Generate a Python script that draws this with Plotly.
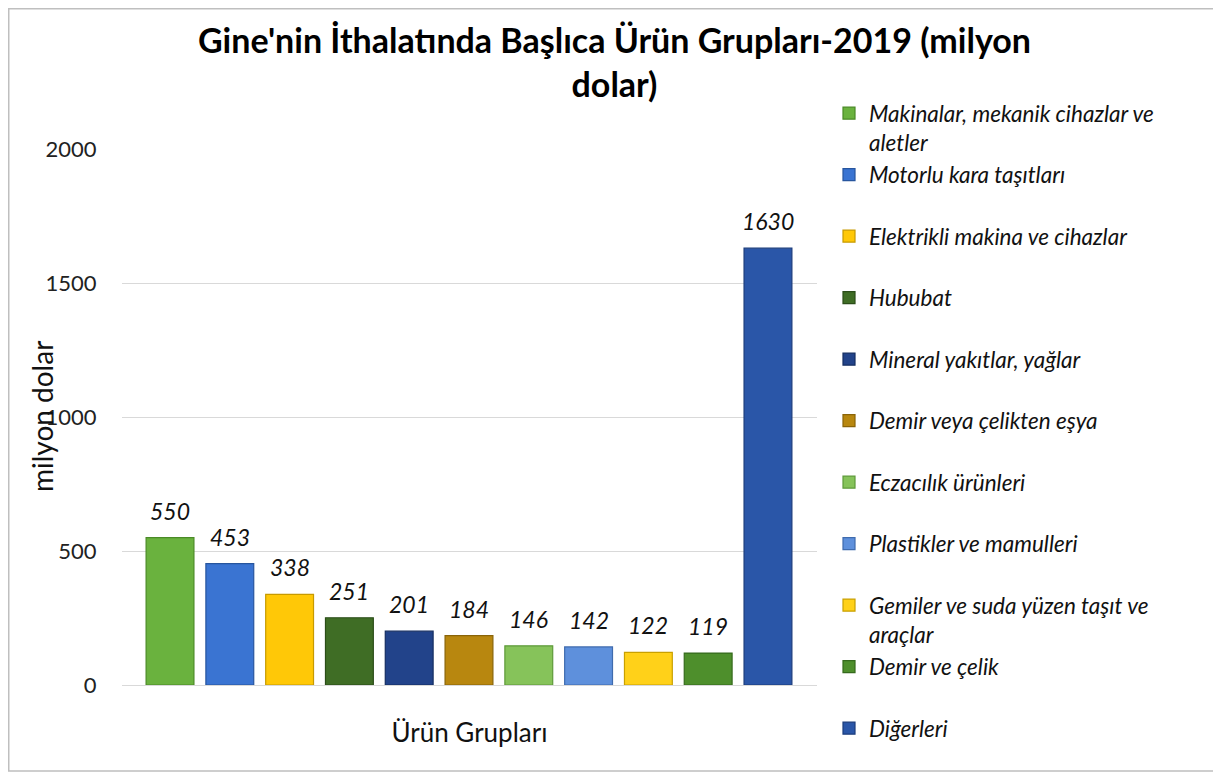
import plotly.graph_objects as go

categories = [
    "Makinalar, mekanik cihazlar ve<br>aletler",
    "Motorlu kara taşıtları",
    "Elektrikli makina ve cihazlar",
    "Hububat",
    "Mineral yakıtlar, yağlar",
    "Demir veya çelikten eşya",
    "Eczacılık ürünleri",
    "Plastikler ve mamulleri",
    "Gemiler ve suda yüzen taşıt ve<br>araçlar",
    "Demir ve çelik",
    "Diğerleri",
]
values = [550, 453, 338, 251, 201, 184, 146, 142, 122, 119, 1630]
colors = ["#6AB23E", "#3A74D2", "#FFC807", "#3F6D25", "#22438A", "#B8870F",
          "#86C35A", "#5E90DC", "#FFD119", "#4E8F2C", "#2A56A8"]
edges = ["#4A8A26", "#27559E", "#C79A00", "#2B4D18", "#152E62", "#8A6408",
         "#5E9A3A", "#3F6BAE", "#C9A000", "#356A1C", "#1B3C7C"]
yticks = [0, 500, 1000, 1500, 2000]

title_text = "Gine'nin İthalatında Başlıca Ürün Grupları-2019 (milyon<br>dolar)"
xtitle = "Ürün Grupları"
ytitle = "milyon dolar"

FONT = "Lato, 'Open Sans', sans-serif"

W, H = 1213, 766
L, T, PW, PH = 114, 141, 695, 536

fig = go.Figure()
for i, (name, v) in enumerate(zip(categories, values)):
    label = name if "<br>" in name else name + "<br>\u00a0"
    fig.add_trace(go.Bar(
        x=[i], y=[v], name=label, legendgroup=f"g{i}",
        width=0.8,
        marker=dict(color=colors[i], line=dict(color=edges[i], width=1.2)),
        hoverinfo="y",
    ))
    fig.add_annotation(x=i, y=v, text=str(v), showarrow=False,
                       xanchor="center", yanchor="middle", yshift=27,
                       font=dict(family=FONT, size=23, color="#111111", style="italic"))

# y-axis title (overlaps tick labels as in reference)
fig.add_annotation(x=(34 - L) / PW, y=0.5, xref="paper", yref="paper",
                   xanchor="center", yanchor="middle",
                   text=ytitle, textangle=-90, showarrow=False,
                   font=dict(family=FONT, size=28, color="#111111"))

# outer chart border
fig.add_shape(type="rect", xref="paper", yref="paper",
              x0=(0.75 - L) / PW, x1=(1209 - L) / PW,
              y0=(T + PH - 763) / PH, y1=(T + PH - 0.75) / PH,
              line=dict(color="#BFBFBF", width=1.5), layer="below")

fig.update_layout(
    width=W, height=H,
    margin=dict(l=L, r=W - L - PW, t=T, b=H - T - PH, autoexpand=False),
    paper_bgcolor="white", plot_bgcolor="white",
    barmode="overlay",
    title=dict(text=title_text, x=0.5, xref="container", xanchor="center",
               y=1 - 45 / H, yref="container", yanchor="middle",
               font=dict(family=FONT, size=34, color="#000000", weight="bold")),
    xaxis=dict(range=[-0.803, 10.82], showticklabels=False, showgrid=False,
               zeroline=False, showline=False, ticks="",
               title=dict(text=xtitle, standoff=38,
                          font=dict(family=FONT, size=26, color="#111111"))),
    yaxis=dict(range=[0, 2000], tickvals=yticks, showgrid=True,
               gridcolor="#D9D9D9", gridwidth=1, zeroline=True,
               zerolinecolor="#D9D9D9", zerolinewidth=1, showline=False,
               ticks="outside", ticklen=0, ticklabelstandoff=20,
               tickfont=dict(family=FONT, size=22, color="#222222")),
    legend=dict(x=821 / W, xref="container", xanchor="left",
                y=1 - 84 / H, yref="container", yanchor="top",
                valign="top", tracegroupgap=1.6, traceorder="normal",
                maxheight=700,
                font=dict(family=FONT, size=22.5, color="#111111", style="italic"),
                bgcolor="rgba(0,0,0,0)"),
    showlegend=True,
)

fig.write_html("out.html")
